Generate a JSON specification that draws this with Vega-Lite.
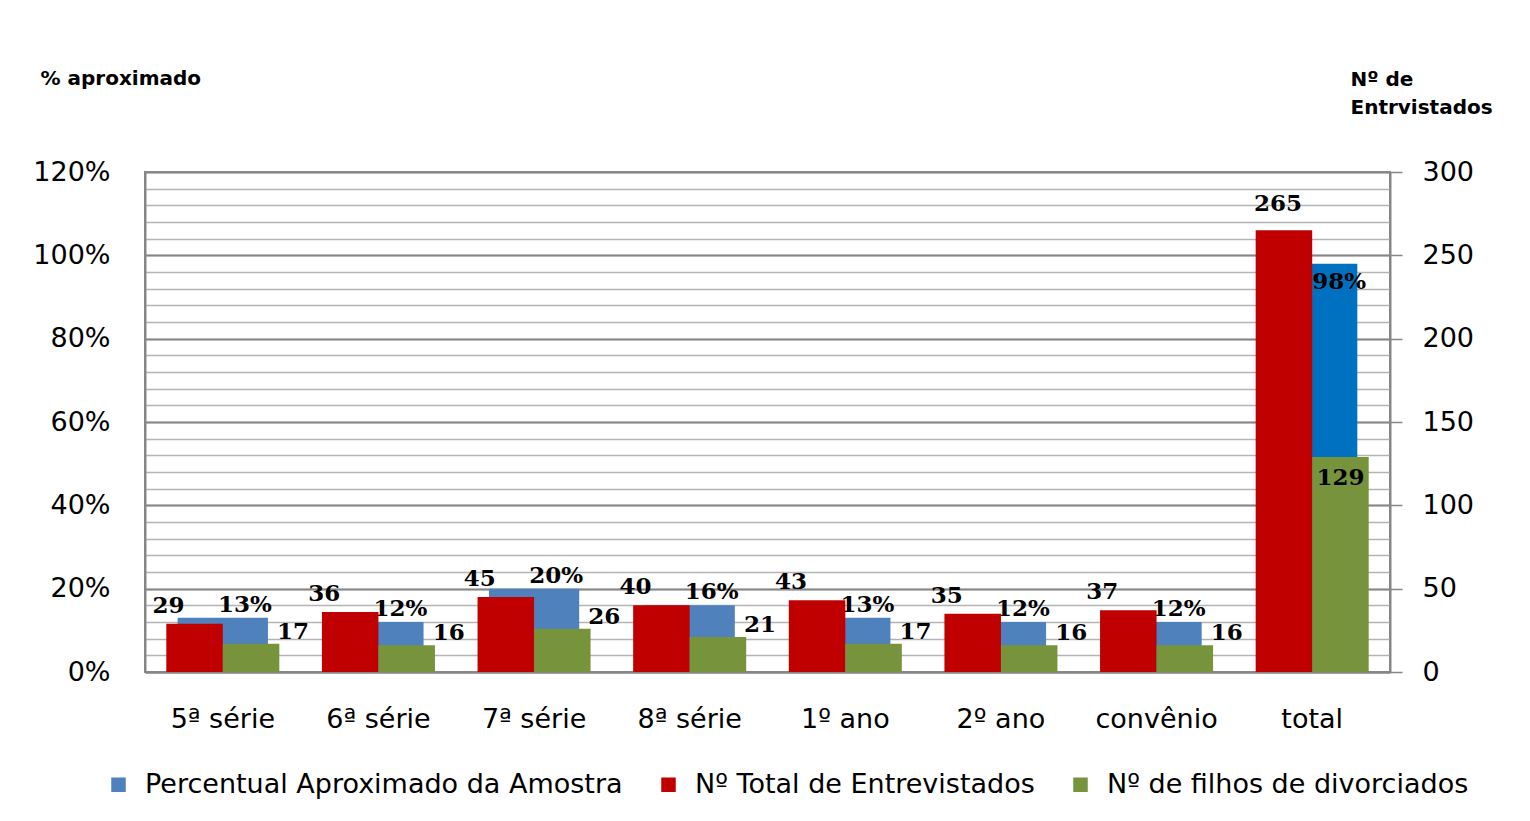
{
  "$schema": "https://vega.github.io/schema/vega-lite/v6.json",
  "width": 1245,
  "height": 500,
  "autosize": {"type": "none"},
  "padding": {"left": 145, "top": 172, "right": 140, "bottom": 149},
  "background": "white",
  "config": {
    "view": {"stroke": "#868686", "strokeWidth": 2},
    "font": "DejaVu Sans"
  },
  "data": {
    "values": [
      {"cat": "5ª série", "series": "Percentual Aproximado da Amostra", "value": 0.13},
      {"cat": "6ª série", "series": "Percentual Aproximado da Amostra", "value": 0.12},
      {"cat": "7ª série", "series": "Percentual Aproximado da Amostra", "value": 0.20},
      {"cat": "8ª série", "series": "Percentual Aproximado da Amostra", "value": 0.16},
      {"cat": "1º ano", "series": "Percentual Aproximado da Amostra", "value": 0.13},
      {"cat": "2º ano", "series": "Percentual Aproximado da Amostra", "value": 0.12},
      {"cat": "convênio", "series": "Percentual Aproximado da Amostra", "value": 0.12},
      {"cat": "total", "series": "Percentual Aproximado da Amostra", "value": 0.98},
      {"cat": "5ª série", "series": "Nº Total de Entrevistados", "value": 29},
      {"cat": "6ª série", "series": "Nº Total de Entrevistados", "value": 36},
      {"cat": "7ª série", "series": "Nº Total de Entrevistados", "value": 45},
      {"cat": "8ª série", "series": "Nº Total de Entrevistados", "value": 40},
      {"cat": "1º ano", "series": "Nº Total de Entrevistados", "value": 43},
      {"cat": "2º ano", "series": "Nº Total de Entrevistados", "value": 35},
      {"cat": "convênio", "series": "Nº Total de Entrevistados", "value": 37},
      {"cat": "total", "series": "Nº Total de Entrevistados", "value": 265},
      {"cat": "5ª série", "series": "Nº de filhos de divorciados", "value": 17},
      {"cat": "6ª série", "series": "Nº de filhos de divorciados", "value": 16},
      {"cat": "7ª série", "series": "Nº de filhos de divorciados", "value": 26},
      {"cat": "8ª série", "series": "Nº de filhos de divorciados", "value": 21},
      {"cat": "1º ano", "series": "Nº de filhos de divorciados", "value": 17},
      {"cat": "2º ano", "series": "Nº de filhos de divorciados", "value": 16},
      {"cat": "convênio", "series": "Nº de filhos de divorciados", "value": 16},
      {"cat": "total", "series": "Nº de filhos de divorciados", "value": 129}
    ]
  },
  "encoding": {
    "x": {
      "field": "cat",
      "type": "nominal",
      "sort": ["5ª série", "6ª série", "7ª série", "8ª série", "1º ano", "2º ano", "convênio", "total"],
      "scale": {"paddingInner": 0, "paddingOuter": 0},
      "axis": {
        "title": null,
        "labelAngle": 0,
        "ticks": false,
        "grid": false,
        "domainColor": "#868686",
        "domainWidth": 2,
        "labelFont": "DejaVu Sans",
        "labelFontSize": 27,
        "labelColor": "#000000",
        "labelPadding": 34
      }
    }
  },
  "layer": [
    {
      "transform": [{"filter": "datum.series === 'Percentual Aproximado da Amostra'"}],
      "encoding": {
        "y": {
          "field": "value",
          "type": "quantitative",
          "scale": {"domain": [0, 1.2], "nice": false, "zero": true},
          "axis": {
            "orient": "left",
            "values": [0, 0.04, 0.08, 0.12, 0.16, 0.2, 0.24, 0.28, 0.32, 0.36, 0.4, 0.44, 0.48, 0.52, 0.56, 0.6, 0.64, 0.68, 0.72, 0.76, 0.8, 0.84, 0.88, 0.92, 0.96, 1.0, 1.04, 1.08, 1.12, 1.16, 1.2],
            "format": ".0%",
            "labelExpr": "round(datum.value*100) % 20 === 0 ? datum.label : ''",
            "ticks": false,
            "labelPadding": 35,
            "labelFont": "DejaVu Sans",
            "labelFontSize": 27,
            "labelColor": "#000000",
            "grid": true,
            "gridColor": "#b4b4b4",
            "gridWidth": 1.5,
            "domainColor": "#868686",
            "domainWidth": 2,
            "title": "% aproximado",
            "titleAngle": 0,
            "titleX": -105,
            "titleY": -88,
            "titleAlign": "left",
            "titleBaseline": "alphabetic",
            "titleFont": "DejaVu Sans",
            "titleFontSize": 20,
            "titleFontWeight": "bold",
            "titleColor": "#000000"
          }
        }
      },
      "layer": [
        {
          "mark": {"type": "bar", "width": {"band": 0.58}},
          "encoding": {
            "color": {
              "condition": {"test": "datum.cat === 'total'", "value": "#0070C0"},
              "field": "series",
              "type": "nominal",
              "scale": {
                "domain": ["Percentual Aproximado da Amostra", "Nº Total de Entrevistados", "Nº de filhos de divorciados"],
                "range": ["#4F81BD", "#C00000", "#77933C"]
              },
              "legend": {
                "orient": "none",
                "legendX": -40,
                "legendY": 599,
                "direction": "horizontal",
                "title": null,
                "symbolType": "square",
                "symbolSize": 210,
                "symbolStrokeWidth": 0,
                "labelFont": "DejaVu Sans",
                "labelFontSize": 27,
                "labelColor": "#000000",
                "labelLimit": 0,
                "labelOffset": 13,
                "columnPadding": 32
              }
            }
          }
        },
        {
          "transform": [{"filter": "datum.cat !== 'total'"}],
          "mark": {"type": "text", "font": "DejaVu Serif", "fontWeight": "bold", "fontSize": 23, "baseline": "middle", "align": "center", "dx": 22, "dy": -13, "color": "#000000"},
          "encoding": {"text": {"field": "value", "type": "quantitative", "format": ".0%"}}
        },
        {
          "transform": [{"filter": "datum.cat === 'total'"}],
          "mark": {"type": "text", "font": "DejaVu Serif", "fontWeight": "bold", "fontSize": 23, "baseline": "middle", "align": "center", "dx": 27, "dy": 18, "color": "#000000"},
          "encoding": {"text": {"field": "value", "type": "quantitative", "format": ".0%"}}
        }
      ]
    },
    {
      "transform": [{"filter": "datum.series !== 'Percentual Aproximado da Amostra'"}],
      "encoding": {
        "y": {
          "field": "value",
          "type": "quantitative",
          "scale": {"domain": [0, 300], "nice": false, "zero": true},
          "axis": {
            "orient": "right",
            "values": [0, 50, 100, 150, 200, 250, 300],
            "ticks": true,
            "tickSize": 12,
            "tickColor": "#868686",
            "tickWidth": 1.5,
            "labelPadding": 20,
            "labelFont": "DejaVu Sans",
            "labelFontSize": 27,
            "labelColor": "#000000",
            "grid": true,
            "gridColor": "#868686",
            "gridWidth": 2,
            "domainColor": "#868686",
            "domainWidth": 2,
            "title": ["Nº de", "Entrvistados"],
            "titleAngle": 0,
            "titleX": -40,
            "titleY": -87,
            "titleAlign": "left",
            "titleBaseline": "alphabetic",
            "titleLineHeight": 28,
            "titleFont": "DejaVu Sans",
            "titleFontSize": 20,
            "titleFontWeight": "bold",
            "titleColor": "#000000"
          }
        },
        "xOffset": {
          "field": "series",
          "type": "nominal",
          "sort": ["Nº Total de Entrevistados", "Nº de filhos de divorciados"],
          "scale": {"paddingInner": 0, "paddingOuter": 0.377}
        }
      },
      "layer": [
        {
          "mark": {"type": "bar"},
          "encoding": {
            "color": {
              "field": "series",
              "type": "nominal",
              "scale": {
                "domain": ["Percentual Aproximado da Amostra", "Nº Total de Entrevistados", "Nº de filhos de divorciados"],
                "range": ["#4F81BD", "#C00000", "#77933C"]
              }
            }
          }
        },
        {
          "transform": [{"filter": "datum.cat !== 'total' && datum.series === 'Nº Total de Entrevistados'"}],
          "mark": {"type": "text", "font": "DejaVu Serif", "fontWeight": "bold", "fontSize": 23, "baseline": "middle", "align": "center", "dx": -26, "dy": -18, "color": "#000000"},
          "encoding": {"text": {"field": "value", "type": "quantitative"}}
        },
        {
          "transform": [{"filter": "datum.cat === 'total' && datum.series === 'Nº Total de Entrevistados'"}],
          "mark": {"type": "text", "font": "DejaVu Serif", "fontWeight": "bold", "fontSize": 23, "baseline": "middle", "align": "center", "dx": -6, "dy": -26, "color": "#000000"},
          "encoding": {"text": {"field": "value", "type": "quantitative"}}
        },
        {
          "transform": [{"filter": "datum.cat !== 'total' && datum.series === 'Nº de filhos de divorciados'"}],
          "mark": {"type": "text", "font": "DejaVu Serif", "fontWeight": "bold", "fontSize": 23, "baseline": "middle", "align": "center", "dx": 42, "dy": -12, "color": "#000000"},
          "encoding": {"text": {"field": "value", "type": "quantitative"}}
        },
        {
          "transform": [{"filter": "datum.cat === 'total' && datum.series === 'Nº de filhos de divorciados'"}],
          "mark": {"type": "text", "font": "DejaVu Serif", "fontWeight": "bold", "fontSize": 23, "baseline": "middle", "align": "center", "dx": 0, "dy": 21, "color": "#000000"},
          "encoding": {"text": {"field": "value", "type": "quantitative"}}
        }
      ]
    }
  ],
  "resolve": {"scale": {"y": "independent"}}
}
